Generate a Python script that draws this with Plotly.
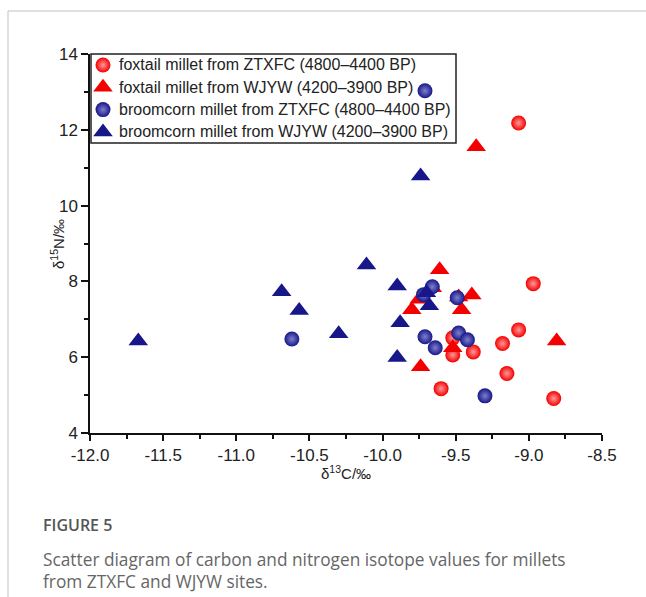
import plotly.graph_objects as go

# foxtail millet from ZTXFC
fox_ztxfc_c = [-9.07, -8.97, -9.07, -9.18, -9.15, -9.60, -8.83, -9.38, -9.52, -9.52]
fox_ztxfc_n = [12.18, 7.94, 6.72, 6.36, 5.57, 5.17, 4.91, 6.14, 6.51, 6.06]
# foxtail millet from WJYW
fox_wjyw_c = [-9.36, -9.61, -9.66, -9.80, -9.48, -9.39, -9.46, -9.74, -8.81, -9.52, -9.75]
fox_wjyw_n = [11.55, 8.31, 7.83, 7.25, 7.59, 7.64, 7.25, 5.75, 6.43, 6.25, 7.53]
# broomcorn millet from ZTXFC
broom_ztxfc_c = [-9.71, -10.62, -9.66, -9.72, -9.49, -9.71, -9.64, -9.48, -9.42, -9.30]
broom_ztxfc_n = [13.03, 6.48, 7.86, 7.65, 7.57, 6.54, 6.25, 6.64, 6.46, 4.98]
# broomcorn millet from WJYW
broom_wjyw_c = [-11.67, -10.69, -10.57, -10.30, -10.11, -9.74, -9.90, -9.88, -9.90, -9.70, -9.68]
broom_wjyw_n = [6.43, 7.73, 7.23, 6.62, 8.43, 10.78, 7.88, 6.91, 5.99, 7.70, 7.36]

labels = [
    "foxtail millet from ZTXFC (4800\u20134400 BP)",
    "foxtail millet from WJYW (4200\u20133900 BP)",
    "broomcorn millet from ZTXFC (4800\u20134400 BP)",
    "broomcorn millet from WJYW (4200\u20133900 BP)",
]
x_ticks = [-12.0, -11.5, -11.0, -10.5, -10.0, -9.5, -9.0, -8.5]
y_ticks = [4, 6, 8, 10, 12, 14]

RED = "#f40000"
BLUE = "#17178a"

# layout constants (pixels)
L, R, T, B = 90, 44, 54, 164
W, H = 646, 597
pw, ph = W - L - R, H - T - B

def px_x(p):
    return (p - L) / pw

def px_y(p):
    return (H - B - p) / ph

LEG_LEFT, LEG_RIGHT, LEG_TOP, LEG_BOTTOM = 91, 456, 54, 143
LEG_SYM_X, LEG_TEXT_X, LEG_ROW0, LEG_ROW_STEP = 103, 116.5, 65, 22.3

fig = go.Figure()
series = [
    (fox_ztxfc_c, fox_ztxfc_n, labels[0], RED, "circle", "#ff9a9a"),
    (fox_wjyw_c, fox_wjyw_n, labels[1], RED, "triangle-up", None),
    (broom_ztxfc_c, broom_ztxfc_n, labels[2], BLUE, "circle", "#7f7fcc"),
    (broom_wjyw_c, broom_wjyw_n, labels[3], BLUE, "triangle-up", None),
]
for i, (xs, ys, name, col, sym, grad) in enumerate(series):
    marker = dict(color=col, symbol=sym, size=15 if sym == "circle" else 17,
                  line=dict(width=0))
    if grad:
        marker["gradient"] = dict(type="radial", color=grad)
    fig.add_trace(go.Scatter(x=xs, y=ys, mode="markers", name=name, marker=marker,
                             showlegend=False))
    # legend key symbol on a pixel-space overlay axis
    fig.add_trace(go.Scatter(x=[LEG_SYM_X], y=[LEG_ROW0 + i * LEG_ROW_STEP],
                             mode="markers", marker=marker, xaxis="x2", yaxis="y2",
                             showlegend=False, hoverinfo="skip"))
    fig.add_annotation(xref="paper", yref="paper", x=px_x(LEG_TEXT_X),
                       y=px_y(LEG_ROW0 + i * LEG_ROW_STEP), xanchor="left", yanchor="middle",
                       text=name, showarrow=False, font=dict(size=16, color="#222"))

fig.update_layout(
    width=W, height=H,
    margin=dict(l=L, r=R, t=T, b=B, autoexpand=False),
    paper_bgcolor="white", plot_bgcolor="white",
    font=dict(family="Liberation Sans, Arial, sans-serif", color="#222"),
    showlegend=False,
    xaxis=dict(range=[-12, -8.5], tickvals=x_ticks,
               ticktext=[f"{v:.1f}" for v in x_ticks],
               showgrid=False, zeroline=False, showline=True,
               linecolor="#111", linewidth=1.5, ticks="outside", ticklen=6,
               tickwidth=1.5, tickcolor="#111",
               tickfont=dict(size=17, color="#222"),
               minor=dict(dtick=0.25, ticks="outside", ticklen=4, tickwidth=1.5, tickcolor="#111"),
               ),
    yaxis=dict(range=[4, 14], tickvals=y_ticks,
               showgrid=False, zeroline=False, showline=True,
               linecolor="#111", linewidth=1.5, ticks="outside", ticklen=7,
               tickwidth=1.5, tickcolor="#111",
               tickfont=dict(size=17, color="#222"),
               minor=dict(dtick=1, ticks="outside", ticklen=4, tickwidth=1.5, tickcolor="#111"),
               ),
    xaxis2=dict(overlaying="x", range=[L, W - R], visible=False, anchor="y2", fixedrange=True),
    yaxis2=dict(overlaying="y", range=[H - B, T], visible=False, anchor="x2", fixedrange=True),
)

annotations = [
    dict(text="\u03b4<sup>13</sup>C/\u2030", x=px_x(346), y=px_y(472), font=dict(size=15, color="#222")),
    dict(text="\u03b4<sup>15</sup>N/\u2030", x=px_x(57), y=px_y(244), textangle=-90, font=dict(size=15, color="#222")),
    dict(text="FIGURE 5", x=px_x(41), y=px_y(525), xanchor="left",
         font=dict(size=16, color="#555", family="Open Sans, sans-serif", weight=600)),
    dict(text="Scatter diagram of carbon and nitrogen isotope values for millets<br>from ZTXFC and WJYW sites.",
         x=px_x(41), y=px_y(570), xanchor="left", align="left",
         font=dict(size=17.3, color="#666", family="Open Sans, sans-serif")),
]
for a in annotations:
    a.setdefault("xanchor", "center")
    fig.add_annotation(xref="paper", yref="paper", yanchor="middle", showarrow=False, **a)

# legend frame (below the data, as in the original)
fig.add_shape(type="rect", xref="paper", yref="paper", layer="below",
              x0=px_x(LEG_LEFT), x1=px_x(LEG_RIGHT), y0=px_y(LEG_BOTTOM), y1=px_y(LEG_TOP),
              line=dict(color="#222", width=1.5), fillcolor="white")

# card border (top and left)
fig.add_shape(type="line", xref="paper", yref="paper", x0=px_x(8), x1=px_x(646), y0=px_y(11), y1=px_y(11),
              line=dict(color="#c0c0c0", width=1))
fig.add_shape(type="line", xref="paper", yref="paper", x0=px_x(8), x1=px_x(8), y0=px_y(11), y1=px_y(597),
              line=dict(color="#c0c0c0", width=1))

fig.write_html("out.html")
